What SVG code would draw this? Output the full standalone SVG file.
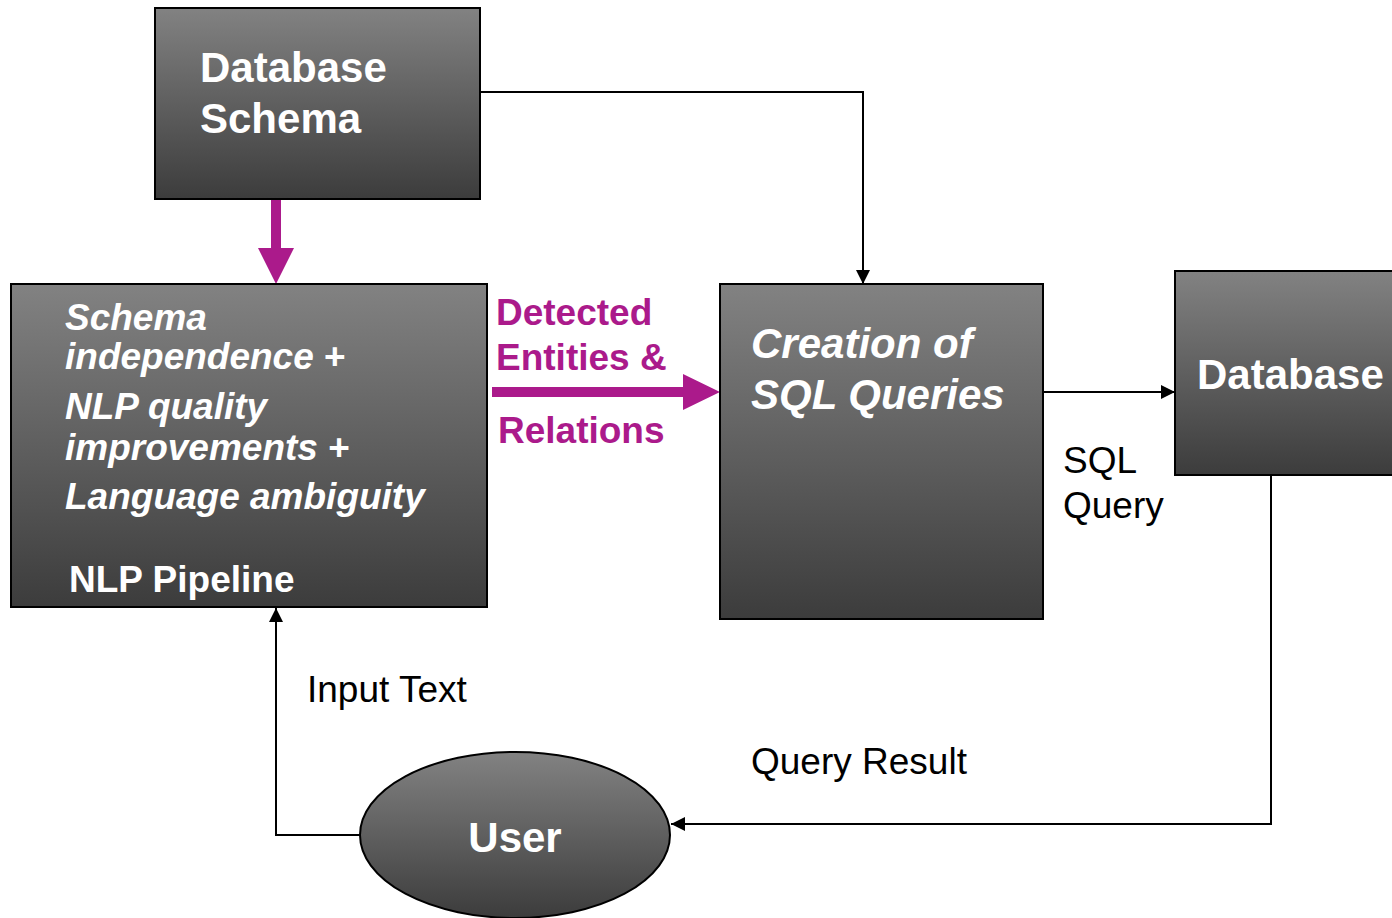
<svg xmlns="http://www.w3.org/2000/svg" width="1392" height="918" viewBox="0 0 1392 918">
  <defs>
    <linearGradient id="boxFill" x1="0" y1="0" x2="0" y2="1">
      <stop offset="0" stop-color="#828282"/>
      <stop offset="1" stop-color="#3c3c3c"/>
    </linearGradient>
    <marker id="arrow" viewBox="0 0 10 10" refX="10" refY="5" markerWidth="16" markerHeight="14" markerUnits="userSpaceOnUse" orient="auto">
      <path d="M0,0 L10,5 L0,10 Z" fill="#000"/>
    </marker>
  </defs>
  <style>
    .node { fill: url(#boxFill); stroke: #000; stroke-width: 2; }
    .white { fill: #fff; font-family: "Liberation Sans", Arial, sans-serif; font-weight: bold; }
    .ital { font-style: italic; }
    .label { fill: #000; font-family: "Liberation Sans", Arial, sans-serif; font-size: 37px; }
    .magenta { fill: #AB1A8B; font-family: "Liberation Sans", Arial, sans-serif; font-weight: bold; font-size: 37px; }
    .link { fill: none; stroke: #000; stroke-width: 2; marker-end: url(#arrow); }
    .bold-arrow { fill: #AB1A8B; }
  </style>

  <g id="connectors">
    <!-- schema feeds query creation -->
    <path class="link" d="M480,92 H863 V284"/>
    <!-- SQL query sent to the database -->
    <path class="link" d="M1043,392 H1175"/>
    <!-- query result back to user -->
    <path class="link" d="M1271,475 V824 H671"/>
    <!-- user input to the pipeline -->
    <path class="link" d="M360,835 H276 V608"/>
    <!-- schema into the NLP pipeline -->
    <polygon class="bold-arrow" points="271,199 281,199 281,248 294,248 276,284 258,248 271,248"/>
    <!-- detected entities into query creation -->
    <polygon class="bold-arrow" points="492,387 683,387 683,374 720,392 683,410 683,397 492,397"/>
  </g>

  <g id="database-schema">
    <rect class="node" x="155" y="8" width="325" height="191"/>
    <text class="white" font-size="42" x="200" y="82">Database</text>
    <text class="white" font-size="42" x="200" y="133">Schema</text>
  </g>

  <g id="nlp-pipeline">
    <rect class="node" x="11" y="284" width="476" height="323"/>
    <text class="white" font-size="37" x="65" y="330"><tspan class="ital">Schema</tspan></text>
    <text class="white" font-size="37" x="65" y="369"><tspan class="ital">independence</tspan> +</text>
    <text class="white" font-size="37" x="65" y="419"><tspan class="ital">NLP quality</tspan></text>
    <text class="white" font-size="37" x="65" y="460"><tspan class="ital">improvements</tspan> +</text>
    <text class="white ital" font-size="37" x="65" y="509">Language ambiguity</text>
    <text class="white" font-size="37" x="69" y="592">NLP Pipeline</text>
  </g>

  <g id="entities-label">
    <text class="magenta" x="496" y="325">Detected</text>
    <text class="magenta" x="496" y="370">Entities &amp;</text>
    <text class="magenta" x="498" y="443">Relations</text>
  </g>

  <g id="sql-creation">
    <rect class="node" x="720" y="284" width="323" height="335"/>
    <text class="white ital" font-size="42" x="751" y="358">Creation of</text>
    <text class="white ital" font-size="42" x="751" y="409">SQL Queries</text>
  </g>

  <g id="database">
    <rect class="node" x="1175" y="271" width="230" height="204"/>
    <text class="white" font-size="42" x="1197" y="389">Database</text>
  </g>

  <g id="user">
    <ellipse class="node" cx="515" cy="835" rx="155" ry="83"/>
    <text class="white" font-size="42" x="515" y="852" text-anchor="middle">User</text>
  </g>

  <g id="edge-labels">
    <text class="label" x="1063" y="473">SQL</text>
    <text class="label" x="1063" y="518">Query</text>
    <text class="label" font-size="36" x="307" y="702">Input Text</text>
    <text class="label" x="751" y="774">Query Result</text>
  </g>
</svg>
